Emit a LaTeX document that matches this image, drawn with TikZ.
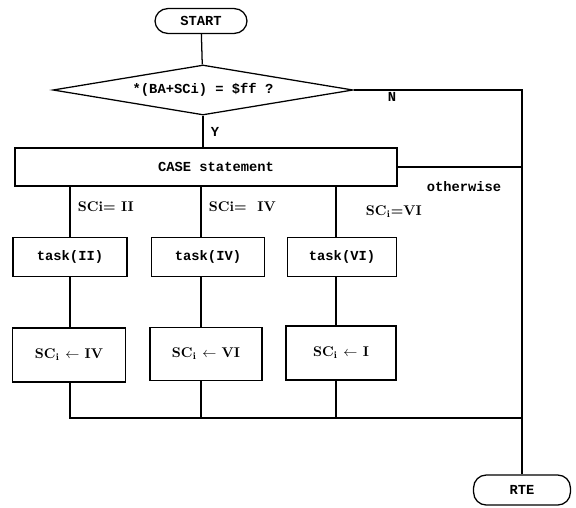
\documentclass[tikz,border=0pt]{standalone}
\usepackage{fontspec}
\setmonofont{Liberation Mono}
\usetikzlibrary{
	shapes.geometric,
	positioning
}

\tikzset{
	flow/.style={line width=0.9pt},
	box/.style={draw, flow, rectangle, inner sep=0pt, font=\fontsize{9.8}{11}\selectfont\ttfamily\bfseries},
	setbox/.style={box, font=\fontsize{10}{11}\selectfont\rmfamily\bfseries},
	term/.style={box, rounded corners=9pt},
	cond/.style={draw, flow, diamond, aspect=6, inner sep=0pt, font=\fontsize{9.8}{11}\selectfont\ttfamily\bfseries},
	tag/.style={font=\fontsize{9.8}{11}\selectfont\ttfamily\bfseries},
	sctag/.style={font=\fontsize{10}{11}\selectfont\rmfamily\bfseries, anchor=west}
}

\begin{document}
\begin{tikzpicture}[x=0.025cm, y=-0.025cm]
	\useasboundingbox (0,0) rectangle (576,507);
	% terminals and test
	\node[term, minimum width=2.3cm, minimum height=0.62cm] (start) at (201,21) {START};
	\node[cond, minimum width=7.5cm, minimum height=1.25cm] (test) at (203,90) {*(BA+SCi) = \$ff ?};
	\node[box, minimum width=9.55cm, minimum height=0.95cm] (case) at (206,167) {\hspace{0.5cm}CASE statement};
	\node[term, minimum width=2.42cm, minimum height=0.75cm] (rte) at (522,490) {RTE};
	% branch columns
	\coordinate (b1) at (70,0);
	\coordinate (b2) at (201,0);
	\coordinate (b3) at (336,0);
	\coordinate (join) at (0,418);
	\node[box, minimum width=2.85cm, minimum height=0.975cm] (taskII) at (70,257) {task(II)};
	\node[box, minimum width=2.82cm, minimum height=0.975cm] (taskIV) at (208,257) {task(IV)};
	\node[box, minimum width=2.72cm, minimum height=0.975cm] (taskVI) at (342,257) {task(VI)};
	\node[setbox, minimum width=2.82cm, minimum height=1.35cm] (scII) at (69,355) {SC\textsubscript{i} $\leftarrow$ IV};
	\node[setbox, minimum width=2.8cm, minimum height=1.32cm] (scIV) at (206,354) {SC\textsubscript{i} $\leftarrow$ VI};
	\node[setbox, minimum width=2.75cm, minimum height=1.35cm] (scVI) at (341,353) {SC\textsubscript{i} $\leftarrow$ I\hspace{0.5cm}};
	% labels
	\node[tag] (no) at (392,97) {N};
	\node[tag] (yes) at (215,132) {Y};
	\node[tag] (other) at (464,187) {otherwise};
	\node[sctag] (lII) at (73,207) {SCi= II};
	\node[sctag] (lIV) at (204,207) {SCi=\ \ IV};
	\node[sctag] (lVI) at (361,212) {SC\textsubscript{i}=VI};
	% connectors
	\draw[flow] (start) -- (test);
	\draw[flow] (test.south) -- (case.north -| test.south);
	\draw[flow] (test.east) -| (rte.north);
	\draw[flow] (case.east) -- (case.east -| rte.north);
	\draw[flow] (case.south -| b1) -- (taskII.north -| b1);
	\draw[flow] (case.south -| b2) -- (taskIV.north -| b2);
	\draw[flow] (case.south -| b3) -- (taskVI.north -| b3);
	\draw[flow] (taskII.south -| b1) -- (scII.north -| b1);
	\draw[flow] (taskIV.south -| b2) -- (scIV.north -| b2);
	\draw[flow] (taskVI.south -| b3) -- (scVI.north -| b3);
	\draw[flow] (scII.south -| b1) -- (b1 |- join) -- (join -| rte.north);
	\draw[flow] (scIV.south -| b2) -- (b2 |- join);
	\draw[flow] (scVI.south -| b3) -- (b3 |- join);
\end{tikzpicture}
\end{document}
